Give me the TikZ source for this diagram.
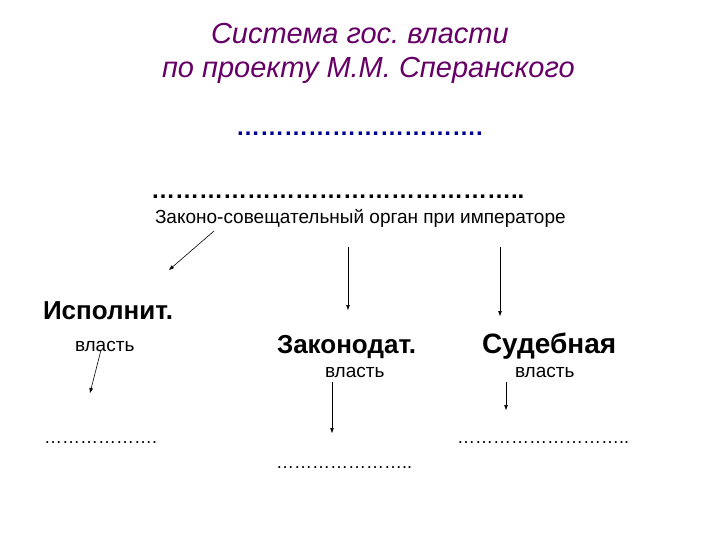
\documentclass[tikz,border=0pt]{standalone}
\usepackage{fontspec}
\setmainfont{Liberation Sans}
\usetikzlibrary{arrows.meta}
\frenchspacing
\definecolor{titlepurple}{RGB}{102,0,102}
\definecolor{dotblue}{RGB}{0,0,153}
\newcommand\myell{…}
\tikzset{
  lbl/.style={anchor=base west, inner sep=0pt, outer sep=0pt},
  conn/.style={draw=black, line width=0.6pt, -{Triangle[length=5pt,width=3.5pt]}},
}
\begin{document}
\begin{tikzpicture}[x=1pt,y=-1pt]
\frenchspacing
\useasboundingbox[fill=white] (0,0) rectangle (720,540);
% title
\node[lbl, font=\fontsize{29}{33}\selectfont\itshape, text=titlepurple] (t1) at (211,44) {Система гос. власти};
\node[lbl, font=\fontsize{29}{33}\selectfont\itshape, text=titlepurple] (t2) at (162,78) {по проекту М.М. Сперанского};
% dots
\node[lbl, font=\fontsize{24}{28}\selectfont\bfseries, text=dotblue] (bd) at (236,136) {………………………….};
\node[lbl, font=\fontsize{24}{28}\selectfont\bfseries] (kd) at (151,199) {………………………………………..};
\node[lbl, font=\fontsize{19}{23}\selectfont] (zs) at (155,224) {Законо-совещательный орган при императоре};
% branches
\node[lbl, font=\fontsize{26}{30}\selectfont\bfseries] (isp) at (43,319) {Исполнит.};
\node[lbl, font=\fontsize{19}{23}\selectfont] (v1) at (75,351) {власть};
\node[lbl, font=\fontsize{26}{30}\selectfont\bfseries] (zak) at (277,353) {Законодат.};
\node[lbl, font=\fontsize{28}{32}\selectfont\bfseries] (sud) at (482,353) {Судебная};
\node[lbl, font=\fontsize{19}{23}\selectfont] (v2) at (325,377) {власть};
\node[lbl, font=\fontsize{19}{23}\selectfont] (v3) at (515,377) {власть};
% bottom dots
\node[lbl, font=\fontsize{18}{22}\selectfont] (d1) at (44,443) {\myell\myell\myell\myell\myell\myell.};
\node[lbl, font=\fontsize{18}{22}\selectfont] (d2) at (276,468) {\myell\myell\myell\myell\myell\myell\myell..};
\node[lbl, font=\fontsize{18}{22}\selectfont] (d3) at (457,443) {\myell\myell\myell\myell\myell\myell\myell\myell\myell..};
% arrow coordinates
\coordinate (a1s) at (214,231); \coordinate (a1e) at (169,270);
\coordinate (a2s) at (348,247); \coordinate (a2e) at (348,310);
\coordinate (a3s) at (500,247); \coordinate (a3e) at (500,316);
\coordinate (a4s) at (101,350); \coordinate (a4e) at (90,393);
\coordinate (a5s) at (332,382); \coordinate (a5e) at (332,433);
\coordinate (a6s) at (506,382); \coordinate (a6e) at (506,410);
\draw[conn] (a1s) -- (a1e);
\draw[conn] (a2s) -- (a2e);
\draw[conn] (a3s) -- (a3e);
\draw[conn] (a4s) -- (a4e);
\draw[conn] (a5s) -- (a5e);
\draw[conn] (a6s) -- (a6e);
\end{tikzpicture}
\end{document}
